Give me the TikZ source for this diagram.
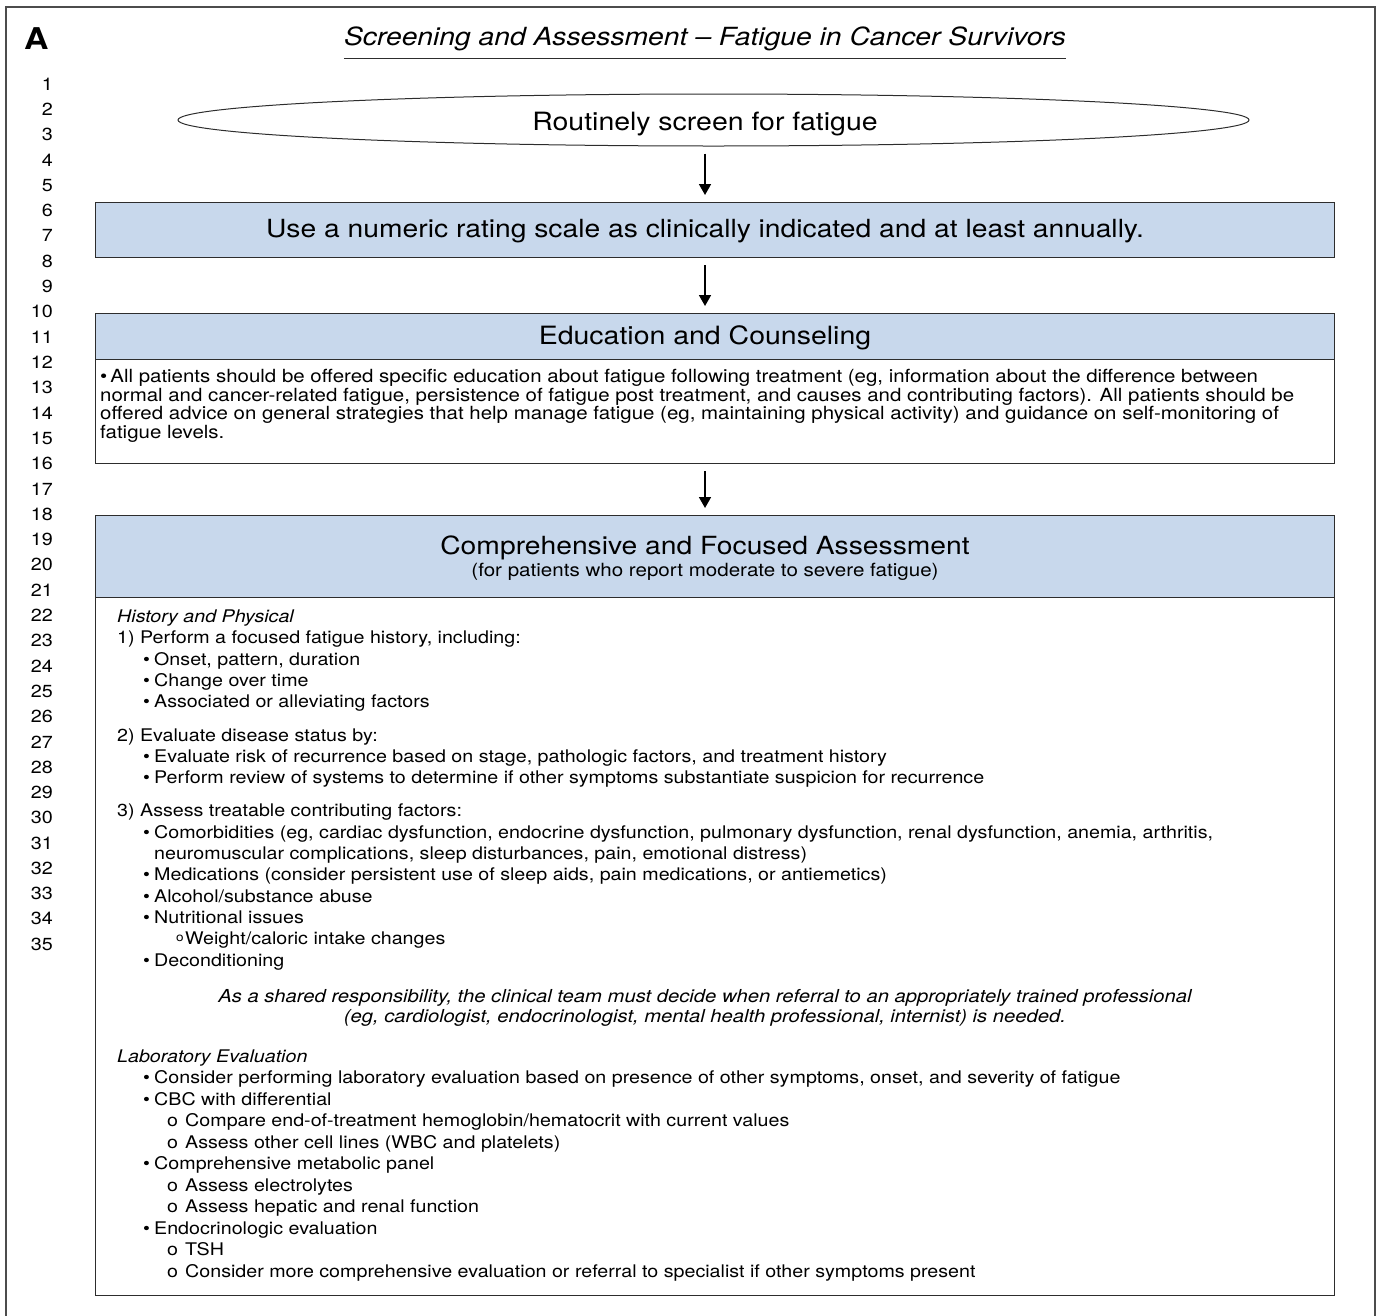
\documentclass[tikz,border=0pt]{standalone}
\usepackage{fontspec}
\setmainfont[FakeStretch=1.13]{TeX Gyre Heros}
\usetikzlibrary{shapes.geometric,arrows.meta,positioning}

\definecolor{hdrblue}{RGB}{200,216,236}
\definecolor{edge}{RGB}{45,45,45}

\tikzstyle{frame} = [draw=edge!85, line width=1.4pt]
\tikzstyle{box} = [draw=edge, line width=1.2pt, inner sep=0pt, anchor=north west, minimum width=1239pt]
\tikzstyle{hdr} = [box, fill=hdrblue]
\tikzstyle{num} = [anchor=east, inner sep=0pt, font=\fontsize{17.5}{17.5}\selectfont]
\tikzstyle{head} = [anchor=base, inner sep=0pt, font=\fontsize{25.2}{25.2}\selectfont]
\tikzstyle{arr} = [-{Triangle[width=12pt,length=11pt]}, line width=1.7pt, shorten <=7pt, shorten >=7pt]
\tikzstyle{body} = [anchor=base west, inner sep=0pt, align=left]

\newcommand{\itm}{\hspace*{26pt}\makebox[11pt][l]{\textbullet}}
\newcommand{\cont}{\hspace*{37pt}}
\newcommand{\subitm}{\hspace*{50pt}\makebox[18pt][l]{o}}
\newcommand{\subsup}{\hspace*{59pt}\makebox[9pt][l]{\raisebox{3pt}{\fontsize{12}{12}\selectfont o}}}

\begin{document}
\begin{tikzpicture}[x=1pt, y=-1pt]
\useasboundingbox (0,0) rectangle (1381,1315);
% frame of the panel, open at the bottom
\draw[frame] (6,1330) -- (6,7) -- (1375,7) -- (1375,1330);

\node[anchor=base west, inner sep=0pt, font=\fontsize{30}{30}\selectfont\bfseries] (panel) at (24,49) {A};
\node[anchor=base, inner sep=0pt, font=\fontsize{25}{25}\selectfont\itshape] (title) at (705,45)
    {Screening and Assessment -- Fatigue in Cancer Survivors};
\draw[line width=1pt, edge] ([yshift=-13pt]title.base west) -- ([yshift=-13pt]title.base east);

% line numbers
\foreach \n in {1,...,35}
    \node[num] (n\n) at (53,{84+(\n-1)*25.3}) {\n};

\coordinate (axis) at (705,0);

% screening
\node[ellipse, draw=edge, line width=1pt, minimum width=1071pt, minimum height=52pt, inner sep=0pt]
    (screen) at (713.5,120) {};
\node[head] (screentxt) at (705,130) {Routinely screen for fatigue};

% rating scale
\node[hdr, minimum height=55pt] (scale) at (95,202) {};
\node[head, font=\fontsize{25}{25}\selectfont] (scaletxt) at (705,237) {Use a numeric rating scale as clinically indicated and at least annually.};

% education
\node[box, minimum height=150pt] (educbody) at (95,313) {};
\node[hdr, minimum height=46pt] (educhdr) at (95,313) {};
\node[head] (eductxt) at (705,344) {Education and Counseling};
\node[body, font=\fontsize{18.1}{18.4}\selectfont] (edutext) at (100,438)
    {\textbullet\,All patients should be offered specific education about fatigue following treatment (eg, information about the difference between\\
    normal and cancer-related fatigue, persistence of fatigue post treatment, and causes and contributing factors). All patients should be\\
    offered advice on general strategies that help manage fatigue (eg, maintaining physical activity) and guidance on self-monitoring of\\
    fatigue levels.};

% assessment
\node[box, minimum height=780pt] (assessbody) at (95,515) {};
\node[hdr, minimum height=82pt] (assesshdr) at (95,515) {};
\node[head, font=\fontsize{25}{25}\selectfont] (assesstxt) at (705,554) {Comprehensive and Focused Assessment};
\node[head, font=\fontsize{18.2}{18.2}\selectfont] (assesssub) at (705,576) {(for patients who report moderate to severe fatigue)};

\node[body, font=\fontsize{17.4}{21.3}\selectfont] (history) at (117,966)
    {\textit{History and Physical}\\
    1) Perform a focused fatigue history, including:\\
    \itm Onset, pattern, duration\\
    \itm Change over time\\
    \itm Associated or alleviating factors\\[12pt]
    2) Evaluate disease status by:\\
    \itm Evaluate risk of recurrence based on stage, pathologic factors, and treatment history\\
    \itm Perform review of systems to determine if other symptoms substantiate suspicion for recurrence\\[12pt]
    3) Assess treatable contributing factors:\\
    \itm Comorbidities (eg, cardiac dysfunction, endocrine dysfunction, pulmonary dysfunction, renal dysfunction, anemia, arthritis,\\
    \cont neuromuscular complications, sleep disturbances, pain, emotional distress)\\
    \itm Medications (consider persistent use of sleep aids, pain medications, or antiemetics)\\
    \itm Alcohol/substance abuse\\
    \itm Nutritional issues\\
    \subsup Weight/caloric intake changes\\
    \itm Deconditioning};

\node[anchor=base, inner sep=0pt, align=center, font=\fontsize{17.9}{20}\selectfont\itshape] (referral) at (705,1022)
    {As a shared responsibility, the clinical team must decide when referral to an appropriately trained professional\\
    (eg, cardiologist, endocrinologist, mental health professional, internist) is needed.};

\node[body, font=\fontsize{17.4}{21.5}\selectfont] (lab) at (117,1277)
    {\textit{Laboratory Evaluation}\\
    \itm Consider performing laboratory evaluation based on presence of other symptoms, onset, and severity of fatigue\\
    \itm CBC with differential\\
    \subitm Compare end-of-treatment hemoglobin/hematocrit with current values\\
    \subitm Assess other cell lines (WBC and platelets)\\
    \itm Comprehensive metabolic panel\\
    \subitm Assess electrolytes\\
    \subitm Assess hepatic and renal function\\
    \itm Endocrinologic evaluation\\
    \subitm TSH\\
    \subitm Consider more comprehensive evaluation or referral to specialist if other symptoms present};

% connectors
\draw[arr] (screen.south -| axis) -- (scale.north -| axis);
\draw[arr] (scale.south -| axis) -- (educhdr.north -| axis);
\draw[arr] (educbody.south -| axis) -- (assesshdr.north -| axis);
\end{tikzpicture}
\end{document}
